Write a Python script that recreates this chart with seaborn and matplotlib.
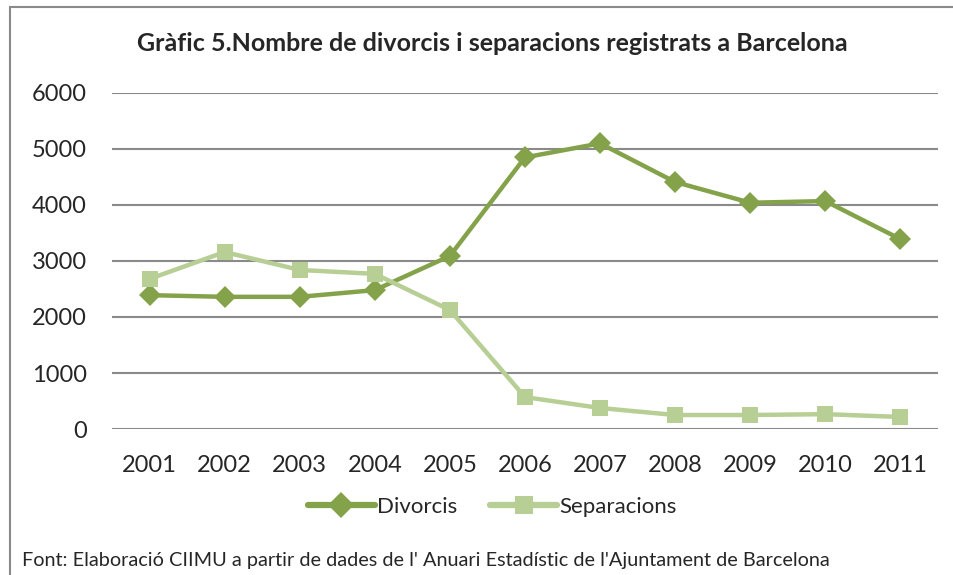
import pandas as pd
import seaborn as sns
import matplotlib.pyplot as plt
from matplotlib.patches import Rectangle

sns.set_style("white")
plt.rcParams['font.family'] = ['Lato', 'DejaVu Sans']

# data
years = [2001, 2002, 2003, 2004, 2005, 2006, 2007, 2008, 2009, 2010, 2011]
divorcis = [2390, 2360, 2360, 2480, 3090, 4850, 5100, 4410, 4040, 4070, 3390]
separacions = [2680, 3160, 2840, 2770, 2125, 570, 375, 250, 250, 265, 215]
series_names = ["Divorcis", "Separacions"]
colors = ["#84A24A", "#B7CE94"]

df = pd.DataFrame({"Any": years * 2,
                   "Valor": divorcis + separacions,
                   "Serie": [series_names[0]] * len(years) + [series_names[1]] * len(years)})

fig = plt.figure(figsize=(9.54, 5.75), dpi=100)
ax = fig.add_axes([0.1174, 0.2539, 0.8658, 0.5844])

sns.lineplot(data=df, x="Any", y="Valor", hue="Serie", style="Serie",
             palette=colors, markers=["D", "s"], dashes=False,
             linewidth=3.2, markersize=11, markeredgewidth=0, ax=ax)

ax.set_xlim(2000.5, 2011.5)
ax.set_ylim(0, 6000)
ax.set_yticks(range(0, 6001, 1000))
ax.set_xticks(years)
ax.set_xlabel("")
ax.set_ylabel("")
ax.grid(axis="y", color="#8a8a8a", linewidth=1.5)
ax.set_axisbelow(True)
for s in ax.spines.values():
    s.set_visible(False)
ax.tick_params(axis="y", labelsize=17, pad=18, length=0)
ax.tick_params(axis="x", labelsize=17, pad=19, length=0)

fig.text(0.516, 0.925, "Gràfic 5.Nombre de divorcis i separacions registrats a Barcelona",
         ha="center", va="center", fontsize=18, fontweight="bold")

leg = ax.legend(loc="center", bbox_to_anchor=(0.516, 0.118), bbox_transform=fig.transFigure,
                ncol=2, frameon=False, fontsize=16, handlelength=3.0, columnspacing=1.5,
                handletextpad=0.1)
for h in leg.legend_handles:
    h.set_linewidth(4.5)
    h.set_markersize(13)

fig.text(0.023, 0.025, "Font: Elaboració CIIMU a partir de dades de l' Anuari Estadístic de l'Ajuntament de Barcelona",
         ha="left", va="center", fontsize=14.3)

fig.patches.append(Rectangle((0.0105, -0.05), 1.05, 1.038, transform=fig.transFigure,
                             fill=False, edgecolor="#8a8a8a", linewidth=1.5, clip_on=False))

fig.savefig("out.png", dpi=100)
